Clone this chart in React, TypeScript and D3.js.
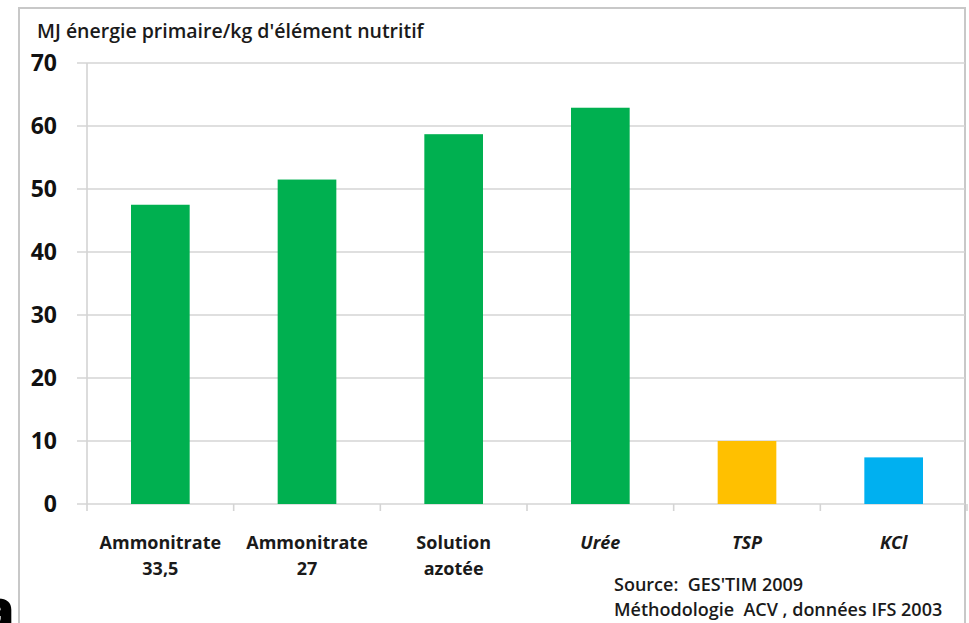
import React from "react";
import * as d3 from "d3";

const categories: string[][] = [
  ["Ammonitrate", "33,5"],
  ["Ammonitrate", "27"],
  ["Solution", "azotée"],
  ["Urée"],
  ["TSP"],
  ["KCl"],
];
const values: number[] = [47.5, 51.5, 58.7, 62.9, 10, 7.4];
const colors: string[] = ["#00B050", "#00B050", "#00B050", "#00B050", "#FFC000", "#00B0F0"];
const italicCats: boolean[] = [false, false, false, true, true, true];
const yTicks: number[] = [0, 10, 20, 30, 40, 50, 60, 70];
const title = "MJ énergie primaire/kg d'élément nutritif";
const sourceLines: string[] = ["Source:  GES'TIM 2009", "Méthodologie  ACV , données IFS 2003"];

const W = 969;
const H = 623;
const left = 87;
const right = 967;
const top = 63;
const bottom = 504;
const font = "'Open Sans', 'DejaVu Sans', sans-serif";

export default function App() {
  const ids = categories.map((_, i) => String(i));
  const x = d3.scaleBand<string>().domain(ids).range([left, right]).paddingInner(0.6).paddingOuter(0.3);
  const xb = d3.scaleBand<string>().domain(ids).range([left, right]).padding(0);
  const y = d3.scaleLinear().domain([0, 70]).range([bottom, top]);
  const grid = "#d4d4d4";

  return (
    <svg width={W} height={H} style={{ position: "absolute", left: 0, top: 0, background: "#fff" }}>
      <rect x={0} y={0} width={W} height={H} fill="#fff" />
      {/* outer border */}
      <rect x={19} y={8} width={946} height={H + 20} fill="none" stroke="#c8c8c8" strokeWidth={2} />
      {/* glyph fragment at the bottom-left edge */}
      <text x={-20} y={630} fontFamily={font} fontWeight={800} fontSize={56} fill="#000">a</text>

      <text x={37} y={38} fontFamily={font} fontWeight={600} fontSize={19.5} fill="#1a1a1a">{title}</text>

      {yTicks.map((t) => (
        <g key={t}>
          <line x1={77} x2={965} y1={y(t)} y2={y(t)} stroke={grid} strokeWidth={1.6} />
          <text x={57} y={y(t)} dy="0.36em" textAnchor="end" fontFamily={font} fontWeight={700} fontSize={23} fill="#111">{t}</text>
        </g>
      ))}
      <line x1={left} x2={left} y1={top} y2={bottom + 7} stroke={grid} strokeWidth={1.6} />
      {ids.map((id) => (
        <line key={"t" + id} x1={(xb(id) as number) + xb.bandwidth()} x2={(xb(id) as number) + xb.bandwidth()} y1={bottom} y2={bottom + 7} stroke={grid} strokeWidth={1.6} />
      ))}

      {values.map((v, i) => (
        <rect key={i} x={x(ids[i])} y={y(v)} width={x.bandwidth()} height={y(0) - y(v)} fill={colors[i]} />
      ))}

      {categories.map((lines, i) => {
        const cx = (xb(ids[i]) as number) + xb.bandwidth() / 2;
        return (
          <text key={"c" + i} textAnchor="middle" fontFamily={font} fontWeight={700} fontSize={18} fontStyle={italicCats[i] ? "italic" : "normal"} fill="#1a1a1a">
            {lines.map((l, j) => (
              <tspan key={j} x={cx} y={549 + j * 26}>{l}</tspan>
            ))}
          </text>
        );
      })}

      {sourceLines.map((l, j) => (
        <text key={"s" + j} x={614} y={591 + j * 25} fontFamily={font} fontWeight={600} fontSize={18} fill="#1a1a1a" style={{ whiteSpace: "pre" }}>{l}</text>
      ))}
    </svg>
  );
}
